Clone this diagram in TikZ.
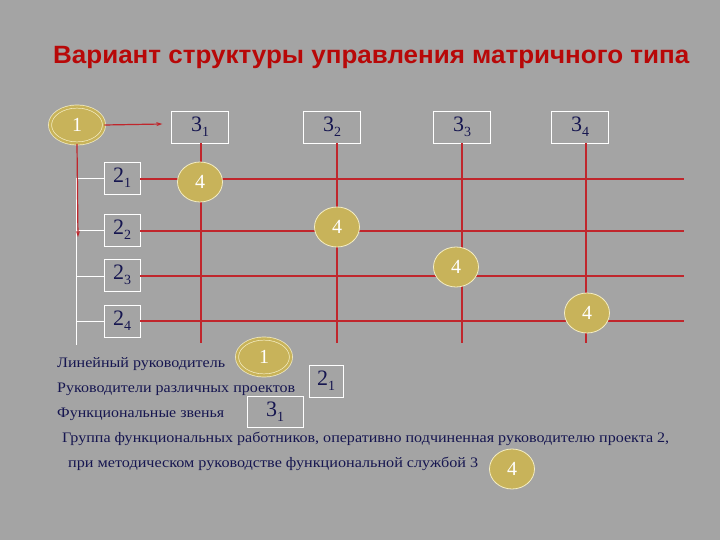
\documentclass[tikz,border=0pt]{standalone}
\usepackage{fontspec}
\usepackage{graphicx}
\setmainfont{Liberation Serif}
\newfontfamily\titlefont{Liberation Sans}
\usetikzlibrary{shapes.geometric,arrows.meta}
\definecolor{bg}{HTML}{A4A4A4}
\definecolor{gold}{HTML}{C8B35A}
\definecolor{ringc}{HTML}{F4EDC2}
\definecolor{redl}{HTML}{C0262C}
\definecolor{navy}{HTML}{161650}
\definecolor{titler}{HTML}{B80808}
\newcommand\lbl[2]{{\fontsize{22}{22}\selectfont #1\raisebox{-5pt}{\fontsize{14}{14}\selectfont #2}}}
\newcommand\wfit[2]{\resizebox{#1}{\height}{#2}}
\tikzset{
  unitbox/.style={draw=white, line width=0.9pt, minimum width=57pt, minimum height=32pt, inner sep=0pt, text=navy},
  rowbox/.style={draw=white, line width=0.9pt, minimum width=36pt, minimum height=32pt, inner sep=0pt, text=navy},
  headell/.style={ellipse, fill=gold, draw=ringc, double=gold, double distance=2.4pt, line width=0.7pt,
     minimum width=54pt, minimum height=37pt, inner sep=0pt, text=white, font=\fontsize{20}{20}\selectfont},
  grpcirc/.style={ellipse, fill=gold, draw=ringc, line width=0.8pt, minimum width=45pt, minimum height=40pt,
     inner sep=0pt, text=white, font=\fontsize{20}{20}\selectfont},
  redline/.style={draw=redl, line width=1.2pt},
  whiteline/.style={draw=white, line width=1pt},
  legtext/.style={anchor=base west, inner sep=0pt, text=navy, font=\fontsize{14.5}{14.5}\selectfont},
}
\begin{document}
\begin{tikzpicture}[x=1pt,y=-1pt]
\useasboundingbox (0,0) rectangle (720,540);
\fill[bg] (0,0) rectangle (720,540);
% title
\node[anchor=base west, inner sep=0pt, text=titler, font=\titlefont\bfseries\fontsize{25}{25}\selectfont] (title) at (53,64)
  {\wfit{636pt}{Вариант структуры управления матричного типа}};
% top boxes
\node[unitbox] (b1) at (200,127) {\lbl{3}{1}};
\node[unitbox] (b2) at (332,127) {\lbl{3}{2}};
\node[unitbox] (b3) at (462,127) {\lbl{3}{3}};
\node[unitbox] (b4) at (580,127) {\lbl{3}{4}};
% row boxes
\node[rowbox] (r1) at (122,178) {\lbl{2}{1}};
\node[rowbox] (r2) at (122,230) {\lbl{2}{2}};
\node[rowbox] (r3) at (122,275) {\lbl{2}{3}};
\node[rowbox] (r4) at (122,321) {\lbl{2}{4}};
% line end coordinates
\coordinate (v1) at (201,343);
\coordinate (v2) at (337,343);
\coordinate (v3) at (462,343);
\coordinate (v4) at (586,343);
\coordinate (h1) at (684,179);
\coordinate (h2) at (684,231);
\coordinate (h3) at (684,276);
\coordinate (h4) at (684,321);
\coordinate (tt) at (76,179);
\coordinate (tb) at (76,345);
\coordinate (ar) at (78,237);
% vertical lines
\draw[redline] (b1.south -| v1) -- (v1);
\draw[redline] (b2.south -| v2) -- (v2);
\draw[redline] (b3.south -| v3) -- (v3);
\draw[redline] (b4.south -| v4) -- (v4);
% horizontal lines
\draw[redline] (r1.east |- h1) -- (h1);
\draw[redline] (r2.east |- h2) -- (h2);
\draw[redline] (r3.east |- h3) -- (h3);
\draw[redline] (r4.east |- h4) -- (h4);
% trunk
\draw[whiteline] (tt) -- (tb);
\draw[whiteline] (tt) -- (r1.west |- tt);
\draw[whiteline] (tt |- h2) -- (r2.west |- h2);
\draw[whiteline] (tt |- h3) -- (r3.west |- h3);
\draw[whiteline] (tt |- h4) -- (r4.west |- h4);
% head
\node[headell] (n1) at (77,125) {1};
\draw[redline, -{Stealth[length=6pt,width=4pt]}] (n1.east) -- ++(58,-1) coordinate (a1);
\draw[redline, -{Stealth[length=6pt,width=4pt]}] (n1.south) -- (ar);
% group circles
\node[grpcirc] (c1) at (200,182) {4};
\node[grpcirc] (c2) at (337,227) {4};
\node[grpcirc] (c3) at (456,267) {4};
\node[grpcirc] (c4) at (587,313) {4};
% legend
\node[legtext] (t1) at (57,367) {\wfit{168pt}{Линейный руководитель}};
\node[headell] (e1) at (264,357) {1};
\node[legtext] (t2) at (57,392) {\wfit{238pt}{Руководители различных проектов}};
\node[rowbox, minimum width=34pt] (lb2) at (326,381) {\lbl{2}{1}};
\node[legtext] (t3) at (57,417) {\wfit{167pt}{Функциональные звенья}};
\node[unitbox, minimum width=56pt, minimum height=31pt] (lb3) at (275,412) {\lbl{3}{1}};
\node[legtext] (t4) at (62,442) {\wfit{607pt}{Группа функциональных работников, оперативно подчиненная руководителю проекта 2,}};
\node[legtext] (t5) at (68,467) {\wfit{410pt}{при методическом руководстве функциональной службой 3}};
\node[grpcirc] (c5) at (512,469) {4};
\end{tikzpicture}
\end{document}
